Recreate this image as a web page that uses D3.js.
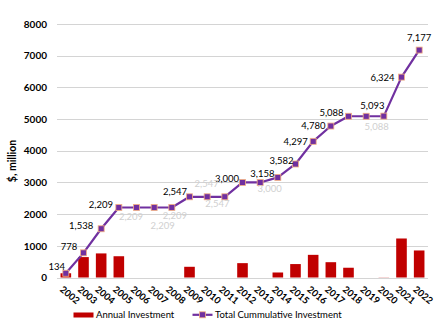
<!DOCTYPE html>
<html>
<head>
<meta charset="utf-8">
<script src="https://cdn.jsdelivr.net/npm/d3@7"></script>
<style>
  html, body { margin: 0; padding: 0; background: #fff; }
  svg { display: block; font-family: Lato, "Liberation Sans", sans-serif; }
</style>
</head>
<body>
<svg id="chart" width="440" height="335"></svg>
<script>
// Investment by year, $ million
const years = ["2002","2003","2004","2005","2006","2007","2008","2009","2010","2011","2012",
               "2013","2014","2015","2016","2017","2018","2019","2020","2021","2022"];
const annualInvestment = [134, 644, 760, 671, 0, 0, 0, 338, 0, 0, 453,
                          0, 158, 424, 715, 483, 308, 0, 5, 1231, 853];
const cumulativeInvestment = [134, 778, 1538, 2209, 2209, 2209, 2209, 2547, 2547, 2547, 3000,
                              3000, 3158, 3582, 4297, 4780, 5088, 5088, 5093, 6324, 7177];
const yTicks = [0, 1000, 2000, 3000, 4000, 5000, 6000, 7000, 8000];
// Years whose cumulative value is labelled in black, and the pale repeated labels
const labelYears = ["2002","2003","2004","2005","2009","2012","2014","2015","2016","2017","2018","2020","2021","2022"];
const paleLabelYears = ["2006","2007","2008","2010","2011","2013","2019"];
const seriesNames = ["Annual Investment", "Total Cummulative Investment"];

const svg = d3.select("#chart");
const margin = { left: 57, right: 12, top: 24, bottom: 57.5 };
const W = 440, H = 335;

const x = d3.scaleBand().domain(years).range([margin.left, W - margin.right]).paddingInner(0.4).paddingOuter(0.2);
const xc = d => x(d) + x.bandwidth() / 2;
const y = d3.scaleLinear().domain([0, 8000]).range([H - margin.bottom, margin.top]);

// Grid lines
svg.append("g")
  .selectAll("line").data(yTicks).join("line")
  .attr("x1", margin.left).attr("x2", W - margin.right)
  .attr("y1", d => Math.round(y(d)) + 0.5).attr("y2", d => Math.round(y(d)) + 0.5)
  .attr("stroke", "#d4d4d4").attr("stroke-width", 1);

// Y axis labels
const yAxis = d3.axisLeft(y).tickValues(yTicks).tickSize(0).tickPadding(0).tickFormat(d3.format("d"));
svg.append("g")
  .attr("transform", `translate(${margin.left - 10},0)`)
  .call(yAxis)
  .call(g => g.select(".domain").remove())
  .selectAll("text")
  .attr("font-family", "Lato, 'Liberation Sans', sans-serif")
  .attr("font-size", 10).attr("font-weight", "bold").attr("fill", "#000");

// Y axis title
svg.append("text")
  .attr("transform", "translate(16,161) rotate(-90)")
  .attr("text-anchor", "middle")
  .attr("font-size", 10.5).attr("font-weight", "bold")
  .text("$, million");

// X axis labels, slanted
const xAxis = d3.axisBottom(x).tickSize(0).tickPadding(0);
svg.append("g")
  .call(xAxis)
  .call(g => g.select(".domain").remove())
  .selectAll("text")
  .attr("font-family", "Lato, 'Liberation Sans', sans-serif")
  .attr("font-size", 9.5).attr("font-weight", "bold").attr("fill", "#000")
  .attr("y", 0).attr("dy", "0.35em").attr("text-anchor", "middle")
  .attr("transform", "translate(4,295) rotate(40)");

// Annual bars
const data = years.map((yr, i) => ({ yr, annual: annualInvestment[i], total: cumulativeInvestment[i] }));
svg.append("g")
  .selectAll("rect").data(data.filter(d => d.annual > 0)).join("rect")
  .attr("x", d => x(d.yr)).attr("width", x.bandwidth())
  .attr("y", d => y(d.annual)).attr("height", d => y(0) - y(d.annual))
  .attr("fill", "#c00000");

// Cumulative line
const line = d3.line().x(d => xc(d.yr)).y(d => y(d.total));
svg.append("path").datum(data)
  .attr("d", line).attr("fill", "none")
  .attr("stroke", "#7030a0").attr("stroke-width", 2.2).attr("stroke-linejoin", "round");

const ms = 6;
svg.append("g")
  .selectAll("rect").data(data).join("rect")
  .attr("x", d => xc(d.yr) - ms / 2).attr("y", d => y(d.total) - ms / 2)
  .attr("width", ms).attr("height", ms)
  .attr("fill", "#7030a0").attr("stroke", "#f4b183").attr("stroke-width", 0.8);

// Label offsets from each point (label centre)
const labelOffset = {
  "2002": [-9, -6.5], "2003": [-14.5, -6.5], "2004": [-20, -3.5], "2005": [-18, -2.5],
  "2009": [-14.5, -5], "2012": [-15.5, -4], "2014": [-15.5, -4], "2015": [-14, -3.5],
  "2016": [-17.5, 0], "2017": [-17.5, 0], "2018": [-17, -4], "2020": [-11.5, -10],
  "2021": [-19, 0.5], "2022": [0, -12.5]
};
const paleOffset = {
  "2006": [-5.5, 9.5], "2007": [8.5, 18.5], "2008": [3, 8], "2010": [-0.5, -13.5],
  "2011": [-7.5, 6.5], "2013": [9.5, 6.5], "2019": [10.5, 10.5]
};
const fmt = d3.format(",");
const byYear = new Map(data.map(d => [d.yr, d]));

svg.append("g")
  .selectAll("text").data(labelYears.map(yr => byYear.get(yr))).join("text")
  .attr("x", d => xc(d.yr) + labelOffset[d.yr][0])
  .attr("y", d => y(d.total) + labelOffset[d.yr][1])
  .attr("dy", "0.35em").attr("text-anchor", "middle")
  .attr("font-size", 9.5).attr("fill", "#000")
  .text(d => fmt(d.total));

svg.append("g")
  .selectAll("text").data(paleLabelYears.map(yr => byYear.get(yr))).join("text")
  .attr("x", d => xc(d.yr) + paleOffset[d.yr][0])
  .attr("y", d => y(d.total) + paleOffset[d.yr][1])
  .attr("dy", "0.35em").attr("text-anchor", "middle")
  .attr("font-size", 9.5).attr("fill", "#d0d0d0")
  .text(d => fmt(d.total));

// Legend
const lg = svg.append("g").attr("font-size", 9.5);
lg.append("rect").attr("x", 73.5).attr("y", 312.5).attr("width", 20).attr("height", 5).attr("fill", "#c00000");
lg.append("text").attr("x", 96).attr("y", 314.8).attr("dy", "0.35em").text(seriesNames[0]);
lg.append("line").attr("x1", 192.5).attr("x2", 212.5).attr("y1", 314.8).attr("y2", 314.8)
  .attr("stroke", "#7030a0").attr("stroke-width", 2.2);
lg.append("rect").attr("x", 202.5 - ms / 2).attr("y", 314.8 - ms / 2).attr("width", ms).attr("height", ms)
  .attr("fill", "#7030a0").attr("stroke", "#f4b183").attr("stroke-width", 0.8);
lg.append("text").attr("x", 215).attr("y", 314.8).attr("dy", "0.35em").text(seriesNames[1]);
</script>
</body>
</html>
